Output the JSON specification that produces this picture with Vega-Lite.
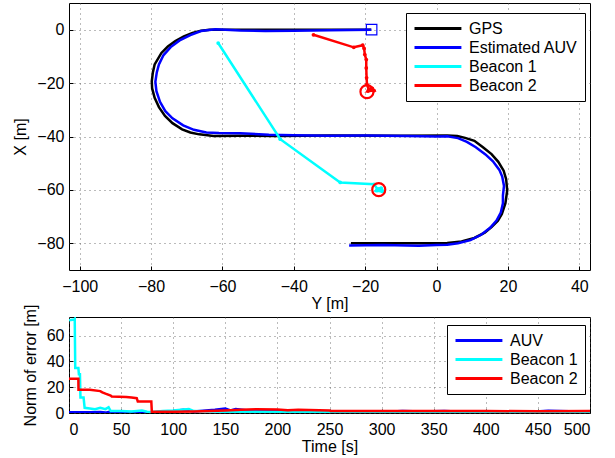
{
  "$schema": "https://vega.github.io/schema/vega-lite/v6.json",
  "padding": {"left": 12, "top": 2, "right": 5, "bottom": 2},
  "background": "white",
  "spacing": 47,
  "bounds": "flush",
  "config": {
    "font": "Liberation Sans",
    "view": {"stroke": "black", "strokeWidth": 1},
    "axis": {
      "labelFont": "Liberation Sans", "labelFontSize": 16, "labelColor": "black",
      "titleFont": "Liberation Sans", "titleFontSize": 16, "titleFontWeight": "normal", "titleColor": "black", "titlePadding": 1,
      "grid": true, "gridColor": "#555555", "gridDash": [1, 4], "gridOpacity": 0.8,
      "domain": false, "tickColor": "black", "tickSize": -4
    },
    "axisX": {"labelPadding": 12},
    "axisY": {"labelPadding": 9, "titlePadding": 8},
    "legend": {
      "labelFont": "Liberation Sans", "labelFontSize": 16, "labelColor": "black",
      "strokeColor": "black", "fillColor": "white", "padding": 7,
      "symbolType": "M-1,0H5.7", "symbolSize": 196, "symbolFillColor": "transparent",
      "symbolStrokeWidth": 3, "rowPadding": 2, "labelOffset": 39
    }
  },
  "datasets": {
    "traj": [
      {"series": "GPS", "i": 1, "Y": -24, "X": -80},
      {"series": "GPS", "i": 2, "Y": -10, "X": -80},
      {"series": "GPS", "i": 3, "Y": 0, "X": -80},
      {"series": "GPS", "i": 4, "Y": 3, "X": -79.9},
      {"series": "GPS", "i": 5, "Y": 7, "X": -79.3},
      {"series": "GPS", "i": 6, "Y": 10.6, "X": -78},
      {"series": "GPS", "i": 7, "Y": 13.5, "X": -76},
      {"series": "GPS", "i": 8, "Y": 15.4, "X": -73.9},
      {"series": "GPS", "i": 9, "Y": 17.2, "X": -71.5},
      {"series": "GPS", "i": 10, "Y": 18.3, "X": -69},
      {"series": "GPS", "i": 11, "Y": 19.3, "X": -65},
      {"series": "GPS", "i": 12, "Y": 19.8, "X": -60.2},
      {"series": "GPS", "i": 13, "Y": 19.5, "X": -56},
      {"series": "GPS", "i": 14, "Y": 18.8, "X": -52.8},
      {"series": "GPS", "i": 15, "Y": 17.3, "X": -49.5},
      {"series": "GPS", "i": 16, "Y": 15.4, "X": -46.6},
      {"series": "GPS", "i": 17, "Y": 13, "X": -44},
      {"series": "GPS", "i": 18, "Y": 10.6, "X": -41.6},
      {"series": "GPS", "i": 19, "Y": 8, "X": -40.5},
      {"series": "GPS", "i": 20, "Y": 5.8, "X": -39.8},
      {"series": "GPS", "i": 21, "Y": 3, "X": -39.6},
      {"series": "GPS", "i": 22, "Y": -10, "X": -39.7},
      {"series": "GPS", "i": 23, "Y": -30, "X": -39.6},
      {"series": "GPS", "i": 24, "Y": -45, "X": -39.8},
      {"series": "GPS", "i": 25, "Y": -55, "X": -39.7},
      {"series": "GPS", "i": 26, "Y": -62.5, "X": -39.8},
      {"series": "GPS", "i": 27, "Y": -66.5, "X": -39.2},
      {"series": "GPS", "i": 28, "Y": -69, "X": -38.5},
      {"series": "GPS", "i": 29, "Y": -71.3, "X": -37.3},
      {"series": "GPS", "i": 30, "Y": -74, "X": -35},
      {"series": "GPS", "i": 31, "Y": -76.1, "X": -32.3},
      {"series": "GPS", "i": 32, "Y": -77.8, "X": -29},
      {"series": "GPS", "i": 33, "Y": -79, "X": -25.5},
      {"series": "GPS", "i": 34, "Y": -79.7, "X": -22},
      {"series": "GPS", "i": 35, "Y": -79.8, "X": -19.3},
      {"series": "GPS", "i": 36, "Y": -79.5, "X": -16},
      {"series": "GPS", "i": 37, "Y": -79, "X": -13},
      {"series": "GPS", "i": 38, "Y": -77.1, "X": -8.7},
      {"series": "GPS", "i": 39, "Y": -75.3, "X": -6.3},
      {"series": "GPS", "i": 40, "Y": -73.2, "X": -4.3},
      {"series": "GPS", "i": 41, "Y": -70.8, "X": -2.5},
      {"series": "GPS", "i": 42, "Y": -68.4, "X": -1.2},
      {"series": "GPS", "i": 43, "Y": -66, "X": -0.4},
      {"series": "GPS", "i": 44, "Y": -63.6, "X": 0},
      {"series": "GPS", "i": 45, "Y": -50, "X": 0},
      {"series": "GPS", "i": 46, "Y": -35, "X": 0},
      {"series": "GPS", "i": 47, "Y": -18.3, "X": 0},
      {"series": "Estimated AUV", "i": 1, "Y": -24.5, "X": -80.8},
      {"series": "Estimated AUV", "i": 2, "Y": -15, "X": -80.6},
      {"series": "Estimated AUV", "i": 3, "Y": -5, "X": -80.9},
      {"series": "Estimated AUV", "i": 4, "Y": 0, "X": -80.6},
      {"series": "Estimated AUV", "i": 5, "Y": 3, "X": -80.5},
      {"series": "Estimated AUV", "i": 6, "Y": 6, "X": -80},
      {"series": "Estimated AUV", "i": 7, "Y": 9.5, "X": -78.8},
      {"series": "Estimated AUV", "i": 8, "Y": 12.5, "X": -76.8},
      {"series": "Estimated AUV", "i": 9, "Y": 15, "X": -74.2},
      {"series": "Estimated AUV", "i": 10, "Y": 16.8, "X": -71.5},
      {"series": "Estimated AUV", "i": 11, "Y": 18, "X": -68.5},
      {"series": "Estimated AUV", "i": 12, "Y": 18.6, "X": -65},
      {"series": "Estimated AUV", "i": 13, "Y": 18.6, "X": -62},
      {"series": "Estimated AUV", "i": 14, "Y": 18.9, "X": -58.5},
      {"series": "Estimated AUV", "i": 15, "Y": 18.4, "X": -55},
      {"series": "Estimated AUV", "i": 16, "Y": 17.6, "X": -52.5},
      {"series": "Estimated AUV", "i": 17, "Y": 15.8, "X": -49.3},
      {"series": "Estimated AUV", "i": 18, "Y": 13.7, "X": -46.7},
      {"series": "Estimated AUV", "i": 19, "Y": 11, "X": -44},
      {"series": "Estimated AUV", "i": 20, "Y": 8.5, "X": -42},
      {"series": "Estimated AUV", "i": 21, "Y": 6, "X": -40.6},
      {"series": "Estimated AUV", "i": 22, "Y": 3, "X": -39.9},
      {"series": "Estimated AUV", "i": 23, "Y": 0, "X": -40},
      {"series": "Estimated AUV", "i": 24, "Y": -8, "X": -39.8},
      {"series": "Estimated AUV", "i": 25, "Y": -20, "X": -39.6},
      {"series": "Estimated AUV", "i": 26, "Y": -30, "X": -39.7},
      {"series": "Estimated AUV", "i": 27, "Y": -40, "X": -39.5},
      {"series": "Estimated AUV", "i": 28, "Y": -47, "X": -39.3},
      {"series": "Estimated AUV", "i": 29, "Y": -55, "X": -38.8},
      {"series": "Estimated AUV", "i": 30, "Y": -61, "X": -38.7},
      {"series": "Estimated AUV", "i": 31, "Y": -64.5, "X": -38.5},
      {"series": "Estimated AUV", "i": 32, "Y": -68, "X": -37.5},
      {"series": "Estimated AUV", "i": 33, "Y": -71, "X": -35.8},
      {"series": "Estimated AUV", "i": 34, "Y": -74, "X": -33.2},
      {"series": "Estimated AUV", "i": 35, "Y": -76, "X": -30.5},
      {"series": "Estimated AUV", "i": 36, "Y": -77.5, "X": -27},
      {"series": "Estimated AUV", "i": 37, "Y": -78.5, "X": -23},
      {"series": "Estimated AUV", "i": 38, "Y": -78.8, "X": -19.5},
      {"series": "Estimated AUV", "i": 39, "Y": -78.4, "X": -16},
      {"series": "Estimated AUV", "i": 40, "Y": -77.8, "X": -13},
      {"series": "Estimated AUV", "i": 41, "Y": -76.5, "X": -9.5},
      {"series": "Estimated AUV", "i": 42, "Y": -74.5, "X": -6.5},
      {"series": "Estimated AUV", "i": 43, "Y": -72, "X": -4},
      {"series": "Estimated AUV", "i": 44, "Y": -69, "X": -2},
      {"series": "Estimated AUV", "i": 45, "Y": -66, "X": -0.5},
      {"series": "Estimated AUV", "i": 46, "Y": -62, "X": 0.2},
      {"series": "Estimated AUV", "i": 47, "Y": -55, "X": -0.3},
      {"series": "Estimated AUV", "i": 48, "Y": -48, "X": -0.5},
      {"series": "Estimated AUV", "i": 49, "Y": -40, "X": -0.4},
      {"series": "Estimated AUV", "i": 50, "Y": -30, "X": -0.2},
      {"series": "Estimated AUV", "i": 51, "Y": -18.3, "X": 0},
      {"series": "Beacon 1", "i": 1, "Y": -61.2, "X": -5},
      {"series": "Beacon 1", "i": 2, "Y": -43.8, "X": -41},
      {"series": "Beacon 1", "i": 3, "Y": -27, "X": -57.2},
      {"series": "Beacon 1", "i": 4, "Y": -17.5, "X": -57.9},
      {"series": "Beacon 1", "i": 5, "Y": -16.5, "X": -59.8},
      {"series": "Beacon 1", "i": 6, "Y": -15.2, "X": -60.6},
      {"series": "Beacon 1", "i": 7, "Y": -16.8, "X": -60.3},
      {"series": "Beacon 1", "i": 8, "Y": -15.5, "X": -59.3},
      {"series": "Beacon 1", "i": 9, "Y": -16.6, "X": -59.6},
      {"series": "Beacon 1", "i": 10, "Y": -15.3, "X": -60.1},
      {"series": "Beacon 1", "i": 11, "Y": -16.2, "X": -60},
      {"series": "Beacon 2", "i": 1, "Y": -34.5, "X": -1.9},
      {"series": "Beacon 2", "i": 2, "Y": -23.2, "X": -6.6},
      {"series": "Beacon 2", "i": 3, "Y": -20.7, "X": -5.8},
      {"series": "Beacon 2", "i": 4, "Y": -20.3, "X": -7},
      {"series": "Beacon 2", "i": 5, "Y": -20.1, "X": -9.3},
      {"series": "Beacon 2", "i": 6, "Y": -19.7, "X": -11.2},
      {"series": "Beacon 2", "i": 7, "Y": -19.7, "X": -14.3},
      {"series": "Beacon 2", "i": 8, "Y": -19.6, "X": -18},
      {"series": "Beacon 2", "i": 9, "Y": -19.5, "X": -20.5},
      {"series": "Beacon 2", "i": 10, "Y": -19, "X": -22.4},
      {"series": "Beacon 2", "i": 11, "Y": -18, "X": -22},
      {"series": "Beacon 2", "i": 12, "Y": -17.5, "X": -22.8},
      {"series": "Beacon 2", "i": 13, "Y": -19.2, "X": -23},
      {"series": "Beacon 2", "i": 14, "Y": -18.5, "X": -22.2}
    ],
    "marks": [
      {"kind": "start", "Y": -18.2, "X": 0},
      {"kind": "beacon", "Y": -19.5, "X": -23.2},
      {"kind": "beacon", "Y": -16.2, "X": -59.9}
    ],
    "err": [
      {"series": "AUV", "t": 0, "v": 0.5}, {"series": "AUV", "t": 20, "v": 0.6}, {"series": "AUV", "t": 30, "v": 0.8},
      {"series": "AUV", "t": 35, "v": 0.3}, {"series": "AUV", "t": 40, "v": 1.2}, {"series": "AUV", "t": 50, "v": 0.5},
      {"series": "AUV", "t": 70, "v": 0.8}, {"series": "AUV", "t": 80, "v": 0.4}, {"series": "AUV", "t": 100, "v": 1.5},
      {"series": "AUV", "t": 110, "v": 2.5}, {"series": "AUV", "t": 120, "v": 1.2}, {"series": "AUV", "t": 140, "v": 2.5},
      {"series": "AUV", "t": 150, "v": 3.5}, {"series": "AUV", "t": 155, "v": 2}, {"series": "AUV", "t": 160, "v": 3},
      {"series": "AUV", "t": 170, "v": 2.2}, {"series": "AUV", "t": 200, "v": 1.5}, {"series": "AUV", "t": 230, "v": 1},
      {"series": "AUV", "t": 260, "v": 0.6}, {"series": "AUV", "t": 280, "v": 0.3}, {"series": "AUV", "t": 300, "v": 0.8},
      {"series": "AUV", "t": 320, "v": 1.5}, {"series": "AUV", "t": 340, "v": 1.2}, {"series": "AUV", "t": 360, "v": 1.6},
      {"series": "AUV", "t": 380, "v": 1}, {"series": "AUV", "t": 400, "v": 0.8}, {"series": "AUV", "t": 420, "v": 1},
      {"series": "AUV", "t": 440, "v": 0.7}, {"series": "AUV", "t": 460, "v": 1.8}, {"series": "AUV", "t": 480, "v": 1.3},
      {"series": "AUV", "t": 500, "v": 1.2},
      {"series": "Beacon 1", "t": 0, "v": 72}, {"series": "Beacon 1", "t": 5, "v": 72.5}, {"series": "Beacon 1", "t": 5.5, "v": 73},
      {"series": "Beacon 1", "t": 6, "v": 35}, {"series": "Beacon 1", "t": 9, "v": 35}, {"series": "Beacon 1", "t": 9.5, "v": 30},
      {"series": "Beacon 1", "t": 10.5, "v": 30}, {"series": "Beacon 1", "t": 11, "v": 12}, {"series": "Beacon 1", "t": 14, "v": 12},
      {"series": "Beacon 1", "t": 15, "v": 4}, {"series": "Beacon 1", "t": 20, "v": 3.5}, {"series": "Beacon 1", "t": 25, "v": 3},
      {"series": "Beacon 1", "t": 30, "v": 4}, {"series": "Beacon 1", "t": 35, "v": 3}, {"series": "Beacon 1", "t": 38, "v": 4.5},
      {"series": "Beacon 1", "t": 40, "v": 1.5}, {"series": "Beacon 1", "t": 50, "v": 1.5}, {"series": "Beacon 1", "t": 60, "v": 1.2},
      {"series": "Beacon 1", "t": 70, "v": 2}, {"series": "Beacon 1", "t": 75, "v": 1}, {"series": "Beacon 1", "t": 80, "v": 0.8},
      {"series": "Beacon 1", "t": 90, "v": 1.5}, {"series": "Beacon 1", "t": 100, "v": 2}, {"series": "Beacon 1", "t": 110, "v": 2.8},
      {"series": "Beacon 1", "t": 115, "v": 3}, {"series": "Beacon 1", "t": 120, "v": 1.5}, {"series": "Beacon 1", "t": 150, "v": 1},
      {"series": "Beacon 1", "t": 200, "v": 0.8}, {"series": "Beacon 1", "t": 250, "v": 0.5}, {"series": "Beacon 1", "t": 300, "v": 0.5},
      {"series": "Beacon 1", "t": 350, "v": 0.3}, {"series": "Beacon 1", "t": 400, "v": 0.2}, {"series": "Beacon 1", "t": 450, "v": 0.5},
      {"series": "Beacon 1", "t": 500, "v": 0.3},
      {"series": "Beacon 2", "t": 0, "v": 26.5}, {"series": "Beacon 2", "t": 9, "v": 26.5}, {"series": "Beacon 2", "t": 9.1, "v": 18},
      {"series": "Beacon 2", "t": 20, "v": 18}, {"series": "Beacon 2", "t": 30, "v": 17}, {"series": "Beacon 2", "t": 32, "v": 16},
      {"series": "Beacon 2", "t": 35, "v": 15}, {"series": "Beacon 2", "t": 40, "v": 13.5}, {"series": "Beacon 2", "t": 41, "v": 12.8},
      {"series": "Beacon 2", "t": 55, "v": 12.5}, {"series": "Beacon 2", "t": 60, "v": 12}, {"series": "Beacon 2", "t": 65, "v": 11.5},
      {"series": "Beacon 2", "t": 66, "v": 9}, {"series": "Beacon 2", "t": 79, "v": 9}, {"series": "Beacon 2", "t": 79.5, "v": 1},
      {"series": "Beacon 2", "t": 100, "v": 1}, {"series": "Beacon 2", "t": 120, "v": 1.2}, {"series": "Beacon 2", "t": 150, "v": 2},
      {"series": "Beacon 2", "t": 165, "v": 2.5}, {"series": "Beacon 2", "t": 180, "v": 3}, {"series": "Beacon 2", "t": 200, "v": 2.8},
      {"series": "Beacon 2", "t": 210, "v": 2.2}, {"series": "Beacon 2", "t": 220, "v": 2.5}, {"series": "Beacon 2", "t": 250, "v": 2},
      {"series": "Beacon 2", "t": 251, "v": 1.5}, {"series": "Beacon 2", "t": 300, "v": 1.5}, {"series": "Beacon 2", "t": 350, "v": 1.6},
      {"series": "Beacon 2", "t": 400, "v": 1.5}, {"series": "Beacon 2", "t": 450, "v": 1.4}, {"series": "Beacon 2", "t": 500, "v": 1.5}
    ]
  },
  "resolve": {"scale": {"color": "independent"}, "legend": {"color": "independent"}},
  "vconcat": [
    {
      "width": 521,
      "height": 267,
      "layer": [
        {
          "data": {"name": "traj"},
          "mark": {"type": "line", "strokeWidth": 2.5, "clip": true},
          "encoding": {
            "x": {"field": "Y", "type": "quantitative", "scale": {"domain": [-103, 43], "nice": false, "zero": false},
                  "axis": {"title": "Y [m]", "values": [-100, -80, -60, -40, -20, 0, 20, 40]}},
            "y": {"field": "X", "type": "quantitative", "scale": {"domain": [-90, 10], "nice": false, "zero": false},
                  "axis": {"title": "X [m]", "values": [-80, -60, -40, -20, 0]}},
            "color": {"field": "series", "type": "nominal",
                      "scale": {"domain": ["GPS", "Estimated AUV", "Beacon 1", "Beacon 2"], "range": ["#000000", "#0000ff", "#00ffff", "#ff0000"]},
                      "sort": ["GPS", "Estimated AUV", "Beacon 1", "Beacon 2"],
                      "legend": {"title": null, "orient": "none", "legendX": 337, "legendY": 10}},
            "order": {"field": "i", "type": "quantitative"}
          }
        },
        {
          "data": {"name": "traj"},
          "transform": [{"filter": "datum.series == 'Beacon 1' || datum.series == 'Beacon 2'"}],
          "mark": {"type": "point", "filled": true, "size": 14, "opacity": 1},
          "encoding": {
            "x": {"field": "Y", "type": "quantitative"},
            "y": {"field": "X", "type": "quantitative"},
            "color": {"field": "series", "type": "nominal", "legend": null}
          }
        },
        {
          "data": {"name": "marks"},
          "transform": [{"filter": "datum.kind == 'start'"}],
          "mark": {"type": "point", "shape": "square", "size": 110, "stroke": "#0000ff", "strokeWidth": 1.2, "filled": false, "opacity": 1},
          "encoding": {
            "x": {"field": "Y", "type": "quantitative"},
            "y": {"field": "X", "type": "quantitative"}
          }
        },
        {
          "data": {"name": "marks"},
          "transform": [{"filter": "datum.kind == 'beacon'"}],
          "mark": {"type": "point", "shape": "circle", "size": 170, "stroke": "#ff0000", "strokeWidth": 2.2, "filled": false, "opacity": 1},
          "encoding": {
            "x": {"field": "Y", "type": "quantitative"},
            "y": {"field": "X", "type": "quantitative"}
          }
        }
      ]
    },
    {
      "width": 521,
      "height": 96,
      "data": {"name": "err"},
      "mark": {"type": "line", "strokeWidth": 2.5, "clip": true},
      "encoding": {
        "x": {"field": "t", "type": "quantitative", "scale": {"domain": [0, 500], "nice": false},
              "axis": {"title": "Time [s]", "values": [0, 50, 100, 150, 200, 250, 300, 350, 400, 450, 500]}},
        "y": {"field": "v", "type": "quantitative", "scale": {"domain": [0, 74.5], "nice": false},
              "axis": {"title": "Norm of error [m]", "values": [0, 20, 40, 60]}},
        "color": {"field": "series", "type": "nominal",
                  "scale": {"domain": ["AUV", "Beacon 1", "Beacon 2"], "range": ["#0000ff", "#00ffff", "#ff0000"]},
                  "sort": ["AUV", "Beacon 1", "Beacon 2"],
                  "legend": {"title": null, "orient": "none", "legendX": 378, "legendY": 8}},
        "order": {"field": "t", "type": "quantitative"}
      }
    }
  ]
}
